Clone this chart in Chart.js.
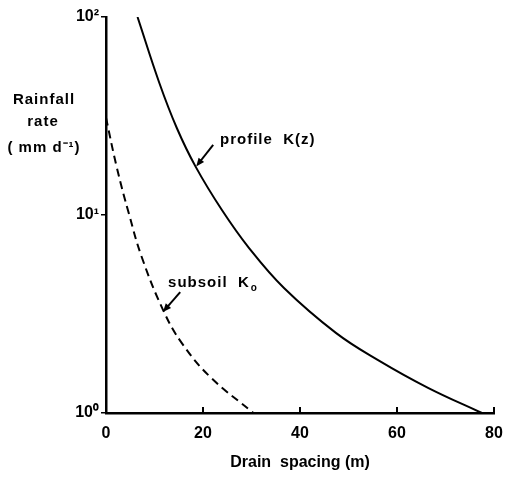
<!DOCTYPE html>
<html>
<head>
<meta charset="utf-8">
<script src="https://cdn.jsdelivr.net/npm/chart.js@4/dist/chart.umd.min.js"></script>
<style>
  body { margin: 0; background: #fff; }
  canvas { display: block; }
</style>
</head>
<body>
<canvas id="myChart" width="506" height="477"></canvas>
<script>
// drain spacing (m) vs rainfall rate (mm/d)
const profileSpacing = [6.5, 11.0, 14.6, 18.5, 23.9, 29.5, 36.7, 47.4, 56.1, 66.4, 77.5];
const profileRate    = [100, 46.4, 27.5, 17.5, 10.6, 6.81, 4.28, 2.54, 1.85, 1.34, 1.0];
const subsoilSpacing = [0, 2.2, 4.7, 7.4, 11.8, 15.6, 21.5, 30.4];
const subsoilRate    = [31, 17.5, 10.2, 6.1, 3.3, 2.26, 1.52, 1.0];

const xTicks = [0, 20, 40, 60, 80];
const yTicks = [1, 10, 100];
const supDigits = ['\u2070', '\u00B9', '\u00B2'];

const font = '"Liberation Sans", Arial, sans-serif';

function toPoints(xs, ys) {
  return xs.map(function(x, i) { return { x: x, y: ys[i] }; });
}

// curve labels, anchored in data units
const notes = [
  { text: 'profile  K(z)', sub: '', at: [23.5, 23.9], from: [22.1, 22.6], tip: [18.6, 17.6] },
  { text: 'subsoil  K', sub: 'o', at: [12.8, 4.54], from: [15.3, 4.08], tip: [11.75, 3.24] }
];

function arrow(ctx, x1, y1, x2, y2) {
  const a = Math.atan2(y2 - y1, x2 - x1);
  const head = 9;
  ctx.beginPath();
  ctx.moveTo(x1, y1);
  ctx.lineTo(x2 - Math.cos(a) * 4, y2 - Math.sin(a) * 4);
  ctx.stroke();
  ctx.beginPath();
  ctx.moveTo(x2, y2);
  ctx.lineTo(x2 - head * Math.cos(a - 0.4), y2 - head * Math.sin(a - 0.4));
  ctx.lineTo(x2 - head * Math.cos(a + 0.4), y2 - head * Math.sin(a + 0.4));
  ctx.closePath();
  ctx.fill();
}

const extras = {
  id: 'extras',
  afterDraw: function(chart) {
    const ctx = chart.ctx;
    const xs = chart.scales.x, ys = chart.scales.y;
    const bottom = chart.chartArea.bottom;
    ctx.save();
    ctx.strokeStyle = '#000';
    ctx.fillStyle = '#000';

    // x ticks point up into the plot
    ctx.lineWidth = 2;
    xTicks.slice(1).forEach(function(v) {
      const px = xs.getPixelForValue(v);
      ctx.beginPath();
      ctx.moveTo(px, bottom + 1);
      ctx.lineTo(px, bottom - 6);
      ctx.stroke();
    });

    // y axis title, written across
    ctx.letterSpacing = '1px';
    ctx.font = 'bold 15px ' + font;
    ctx.textAlign = 'center';
    ctx.textBaseline = 'middle';
    ctx.fillText('Rainfall', 44, 100);
    ctx.fillText('rate', 43, 122);
    ctx.fillText('( mm d\u207B\u00B9)', 44, 148);

    // curve labels with arrows
    ctx.lineWidth = 2;
    notes.forEach(function(n) {
      const tx = xs.getPixelForValue(n.at[0]);
      const ty = ys.getPixelForValue(n.at[1]);
      ctx.font = 'bold 15px ' + font;
      ctx.textAlign = 'left';
      ctx.fillText(n.text, tx, ty);
      if (n.sub) {
        const w = ctx.measureText(n.text).width;
        ctx.font = 'bold 10px ' + font;
        ctx.fillText(n.sub, tx + w + 1, ty + 5);
      }
      arrow(ctx,
        xs.getPixelForValue(n.from[0]), ys.getPixelForValue(n.from[1]),
        xs.getPixelForValue(n.tip[0]), ys.getPixelForValue(n.tip[1]));
    });
    ctx.restore();
  }
};

const ctx = document.getElementById('myChart').getContext('2d');
const myChart = new Chart(ctx, {
  type: 'scatter',
  data: {
    datasets: [{
      label: 'profile K(z)',
      data: toPoints(profileSpacing, profileRate),
      showLine: true,
      borderColor: '#000',
      borderWidth: 2,
      pointRadius: 0,
      tension: 0.4
    }, {
      label: 'subsoil Ko',
      data: toPoints(subsoilSpacing, subsoilRate),
      showLine: true,
      borderColor: '#000',
      borderWidth: 2,
      borderDash: [8, 5],
      pointRadius: 0,
      tension: 0.4
    }]
  },
  options: {
    responsive: false,
    animation: false,
    events: [],
    layout: { autoPadding: false, padding: { left: 0, top: 17, right: 12, bottom: 0 } },
    plugins: {
      legend: { display: false },
      tooltip: { enabled: false }
    },
    scales: {
      x: {
        type: 'linear',
        min: 0,
        max: 80,
        afterFit: function(scale) {
          scale.height = 64;
          scale.paddingLeft = 0;
          scale.paddingRight = 0;
        },
        afterBuildTicks: function(scale) {
          scale.ticks = xTicks.map(function(v) { return { value: v }; });
        },
        grid: { display: true, drawOnChartArea: false, drawTicks: false },
        border: { display: true, color: '#000', width: 2.5 },
        ticks: {
          color: '#000',
          padding: 11,
          font: { family: font, size: 16, weight: 'bold' }
        },
        title: {
          display: true,
          text: 'Drain  spacing (m)',
          color: '#000',
          padding: { top: 4, bottom: 5 },
          font: { family: font, size: 16, weight: 'bold' }
        }
      },
      y: {
        type: 'logarithmic',
        min: 1,
        max: 100,
        afterFit: function(scale) { scale.width = 106; },
        afterBuildTicks: function(scale) {
          scale.ticks = yTicks.map(function(v) { return { value: v }; });
        },
        grid: {
          display: true,
          drawOnChartArea: false,
          tickLength: 5,
          color: '#000',
          lineWidth: 1.5
        },
        border: { display: true, color: '#000', width: 2.5 },
        ticks: {
          color: '#000',
          padding: 2,
          font: { family: font, size: 16, weight: 'bold' },
          callback: function(value) {
            return '10' + supDigits[Math.round(Math.log10(value))];
          }
        }
      }
    }
  },
  plugins: [extras]
});
</script>
</body>
</html>
